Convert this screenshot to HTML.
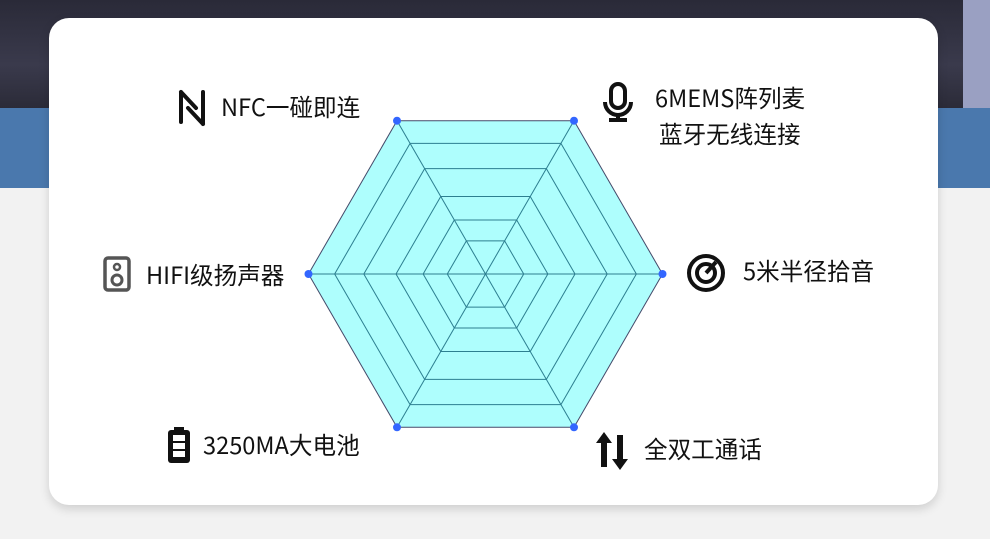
<!DOCTYPE html>
<html><head><meta charset="utf-8"><style>
html,body{margin:0;padding:0}
body{width:990px;height:539px;position:relative;overflow:hidden;background:#f2f2f2;font-family:"Liberation Sans","Noto Sans CJK SC",sans-serif}
.dark{position:absolute;left:0;top:0;width:990px;height:108px;background:linear-gradient(180deg,#2a2a38,#3a3a4c 60%,#2b2b38)}
.dark2{position:absolute;left:963px;top:0;width:27px;height:108px;background:#9aa0c2}
.blue{position:absolute;left:0;top:108px;width:990px;height:80px;background:#4a78ad}
.card{position:absolute;left:49px;top:18px;width:889px;height:487px;background:#fff;border-radius:20px;box-shadow:0 4px 10px rgba(0,0,0,.15)}
.t{position:absolute;font-size:23.6px;color:#111;line-height:1;white-space:nowrap;font-family:"Noto Sans CJK SC",sans-serif}
</style></head><body>
<div class="dark"></div><div class="dark2"></div><div class="blue"></div>
<div class="card"></div>
<svg width="990" height="539" style="position:absolute;left:0;top:0">
<g transform="translate(485.5,274) scale(1.0057) translate(-485.5,-273.5)">
<polygon points="661.5,273.5 573.5,121.1 397.5,121.1 309.5,273.5 397.5,425.9 573.5,425.9" fill="#aefefd" stroke="#444a6a" stroke-width="1"/>
<g fill="none" stroke="#2d7f90" stroke-width="1">
<polygon points="635.5,273.5 560.5,143.6 410.5,143.6 335.5,273.5 410.5,403.4 560.5,403.4"/>
<polygon points="606.5,273.5 546,168.7 425,168.7 364.5,273.5 425,378.3 546,378.3"/>
<polygon points="574.5,273.5 530,196.4 441,196.4 396.5,273.5 441,350.6 530,350.6"/>
<polygon points="547.5,273.5 516.5,219.8 454.5,219.8 423.5,273.5 454.5,327.2 516.5,327.2"/>
<polygon points="523.5,273.5 504.5,240.6 466.5,240.6 447.5,273.5 466.5,306.4 504.5,306.4"/>
<line x1="309.5" y1="273.5" x2="661.5" y2="273.5"/>
<line x1="397.5" y1="121.1" x2="573.5" y2="425.9"/>
<line x1="573.5" y1="121.1" x2="397.5" y2="425.9"/>
</g>
</g>
<g fill="#3366ff">
<circle cx="662.5" cy="274" r="4"/><circle cx="574" cy="120.7" r="4"/><circle cx="397" cy="120.7" r="4"/>
<circle cx="308.5" cy="274" r="4"/><circle cx="397" cy="427.3" r="4"/><circle cx="574" cy="427.3" r="4"/>
</g>
<path d="M181,92 L181,122 M181,92 L196,108 M188,108 L203,124 M203,92 L203,124" stroke="#111" stroke-width="4" fill="none" stroke-linecap="round"/>
<rect x="611" y="84" width="14" height="24" rx="7" fill="none" stroke="#111" stroke-width="4"/>
<path d="M605,102 a13,13 0 0 0 26,0 M618,115 L618,120 M609,120 L627,120" stroke="#111" stroke-width="4" fill="none"/>
<rect x="105" y="258" width="24" height="32" rx="3" fill="none" stroke="#555" stroke-width="3.5"/>
<circle cx="117" cy="267" r="3" fill="none" stroke="#555" stroke-width="2.5"/>
<circle cx="117" cy="280" r="5" fill="none" stroke="#555" stroke-width="3"/>
<circle cx="706" cy="273" r="17" fill="none" stroke="#111" stroke-width="4"/>
<circle cx="706" cy="273" r="9" fill="none" stroke="#111" stroke-width="4"/>
<path d="M706,273 L716,262" stroke="#111" stroke-width="4"/>
<rect x="174" y="427" width="10" height="4" fill="#111"/>
<rect x="168" y="430" width="22" height="33" rx="3" fill="#111"/>
<rect x="173" y="435" width="12" height="6" fill="#fff"/>
<rect x="173" y="443" width="12" height="6" fill="#fff"/>
<rect x="173" y="451" width="12" height="6" fill="#fff"/>
<path d="M604,432 L596,443 L601,443 L601,467 L607,467 L607,443 L612,443 Z" fill="#111"/>
<path d="M620,470 L612,459 L617,459 L617,435 L623,435 L623,459 L628,459 Z" fill="#111"/>
</svg>
<div class="t" style="left:221px;top:95px">NFC一碰即连</div>
<div class="t" style="left:655px;top:86px">6MEMS阵列麦</div>
<div class="t" style="left:659px;top:122px">蓝牙无线连接</div>
<div class="t" style="left:743px;top:259px">5米半径拾音</div>
<div class="t" style="left:146px;top:263px">HIFI级扬声器</div>
<div class="t" style="left:203px;top:433px">3250MA大电池</div>
<div class="t" style="left:644px;top:437px">全双工通话</div>
</body></html>
